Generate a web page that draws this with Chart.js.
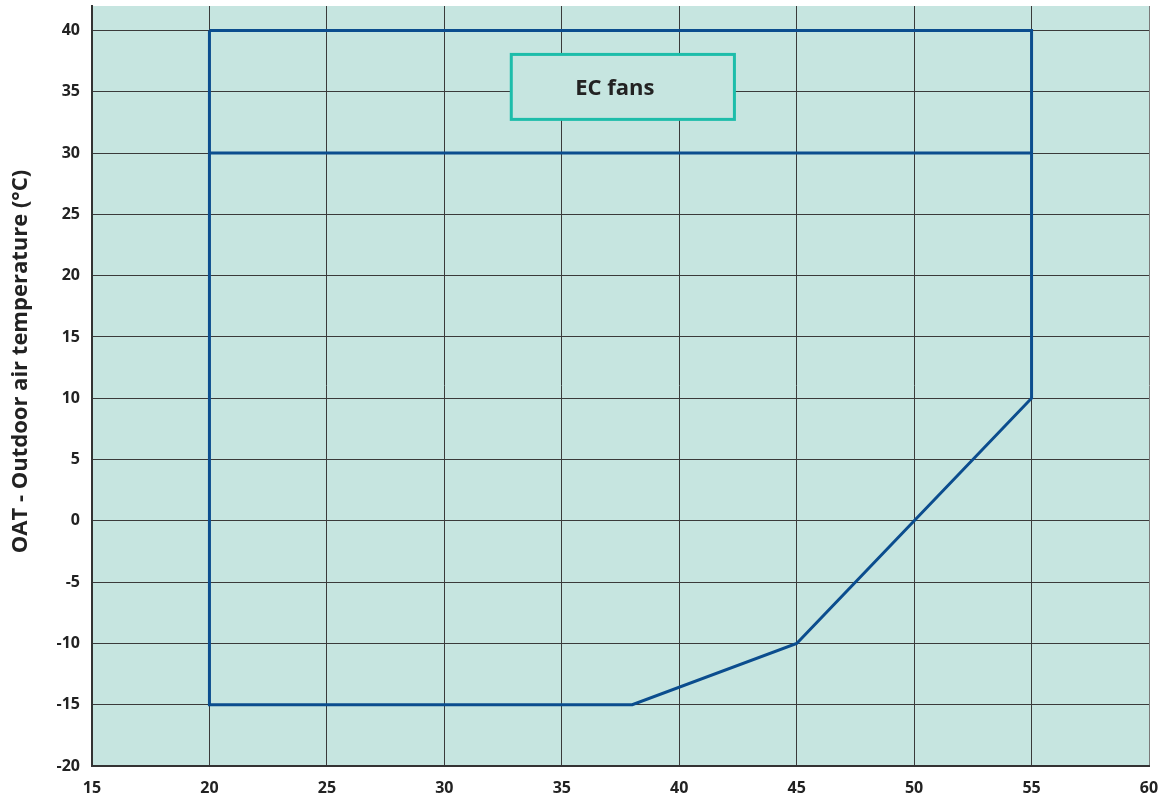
<!DOCTYPE html>
<html>
<head>
<meta charset="utf-8">
<script src="https://cdn.jsdelivr.net/npm/chart.js@4"></script>
<style>
html,body{margin:0;padding:0;background:#fff;}
#wrap{width:1165px;height:800px;position:relative;}
</style>
</head>
<body>
<div id="wrap"><canvas id="c" width="1165" height="800"></canvas></div>
<script>
// Operating envelope (x: leaving water temp °C, y: outdoor air temp °C)
const envelopeX = [20, 55, 55, 45, 38, 20, 20];
const envelopeY = [40, 40, 10, -10, -15, -15, 40];
const innerLineX = [20, 55];
const innerLineY = [30, 30];
const labelText = 'EC fans';
const labelBox = {x1: 32.85, x2: 42.35, y1: 38.05, y2: 32.75};
const yTitle = 'OAT - Outdoor air temperature (°C)';

const toPts = (xs, ys) => xs.map((x, i) => ({x: x, y: ys[i]}));

const bgPlugin = {
  id: 'bg',
  beforeDraw(chart) {
    const a = chart.chartArea, ctx = chart.ctx;
    ctx.save();
    ctx.fillStyle = '#c6e5e0';
    ctx.fillRect(a.left, a.top, a.right - a.left, a.bottom - a.top);
    ctx.restore();
  }
};
const labelPlugin = {
  id: 'lbl',
  afterDatasetsDraw(chart) {
    const ctx = chart.ctx, xs = chart.scales.x, ys = chart.scales.y;
    const l = xs.getPixelForValue(labelBox.x1), r = xs.getPixelForValue(labelBox.x2);
    const t = ys.getPixelForValue(labelBox.y1), b = ys.getPixelForValue(labelBox.y2);
    ctx.save();
    ctx.fillStyle = '#c6e5e0';
    ctx.fillRect(l, t, r - l, b - t);
    ctx.strokeStyle = '#1dbdaa';
    ctx.lineWidth = 3;
    ctx.strokeRect(l, t, r - l, b - t);
    ctx.fillStyle = '#222';
    ctx.font = 'bold 22px "Open Sans", sans-serif';
    ctx.textAlign = 'center';
    ctx.textBaseline = 'middle';
    ctx.fillText(labelText, (l + r) / 2 - 8, (t + b) / 2 + 2);
    ctx.restore();
  }
};
const titlePlugin = {
  id: 'ytitle',
  afterDraw(chart) {
    const ctx = chart.ctx, ys = chart.scales.y;
    const cy = ys.getPixelForValue(13);
    ctx.save();
    ctx.translate(21, cy);
    ctx.rotate(-Math.PI / 2);
    ctx.fillStyle = '#222';
    ctx.font = 'bold 22px "Open Sans", sans-serif';
    ctx.textAlign = 'center';
    ctx.textBaseline = 'middle';
    ctx.fillText(yTitle, 0, 0);
    ctx.restore();
  }
};

new Chart(document.getElementById('c'), {
  type: 'scatter',
  data: {
    datasets: [
      {data: toPts(envelopeX, envelopeY), showLine: true, borderColor: '#0b4d8e', borderWidth: 3, pointRadius: 0, fill: false, tension: 0},
      {data: toPts(innerLineX, innerLineY), showLine: true, borderColor: '#0b4d8e', borderWidth: 3, pointRadius: 0, fill: false, tension: 0}
    ]
  },
  options: {
    responsive: false,
    animation: false,
    devicePixelRatio: 1,
    layout: {padding: {top: 6, right: 16, left: 0, bottom: 0}},
    plugins: {legend: {display: false}, tooltip: {enabled: false}},
    scales: {
      x: {
        type: 'linear', min: 15, max: 60,
        ticks: {stepSize: 5, color: '#222', font: {family: '"Open Sans", sans-serif', weight: 'bold', size: 16}, padding: 13, maxRotation: 0},
        grid: {color: ctx => ctx.index === 9 ? '#7a7a7a' : '#3a3a3a', lineWidth: 1, drawTicks: false},
        border: {color: '#333', width: 2},
        afterFit(s) { s.height = 34; s.paddingLeft = 0; s.paddingRight = 0; }
      },
      y: {
        type: 'linear', min: -20, max: 42,
        afterBuildTicks(s) { s.ticks = s.ticks.filter(t => t.value % 5 === 0); },
        ticks: {stepSize: 5, color: '#222', font: {family: '"Open Sans", sans-serif', weight: 'bold', size: 16}, padding: 12},
        grid: {color: '#3a3a3a', lineWidth: 1, drawTicks: false},
        border: {color: '#333', width: 2},
        title: {display: false},
        afterFit(s) { s.width = 92; s.paddingTop = 0; s.paddingBottom = 0; }
      }
    }
  },
  plugins: [bgPlugin, labelPlugin, titlePlugin]
});
</script>
</body>
</html>
